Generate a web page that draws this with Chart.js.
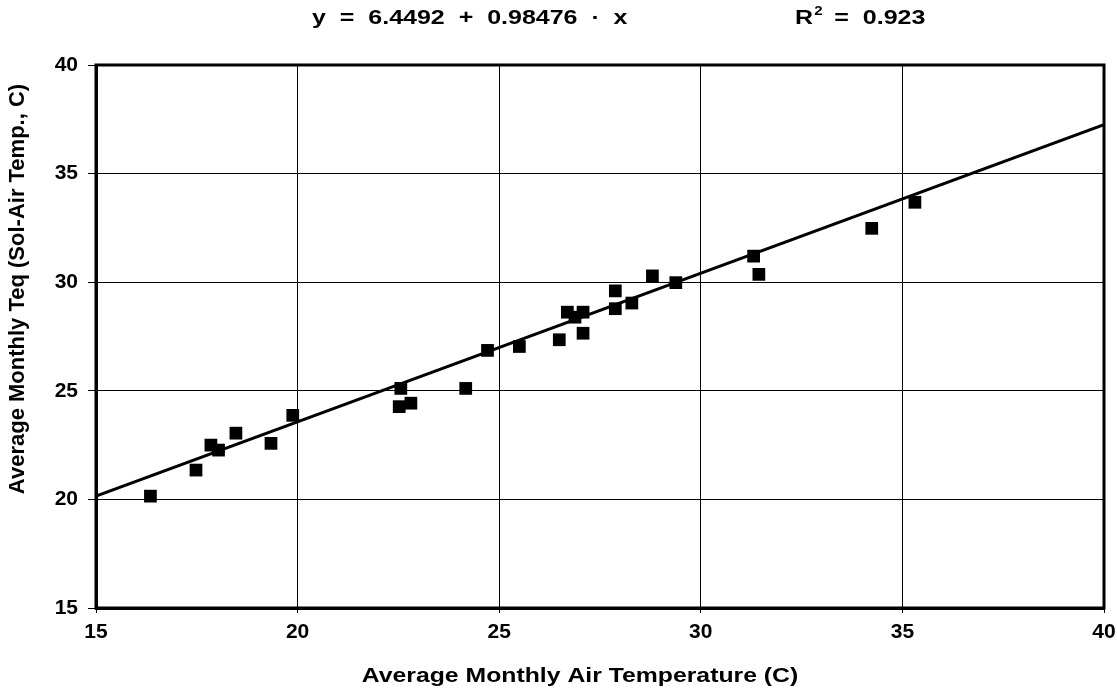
<!DOCTYPE html>
<html lang="en">
<head>
    <meta charset="UTF-8">
    <title>Teq vs Air Temperature</title>
    <style>
        body { margin: 0; padding: 0; background: #fff; overflow: hidden; }
        .chart-container { width: 1117px; height: 694px; }
        canvas { display: block; }
    </style>
    <script src="https://cdn.jsdelivr.net/npm/chart.js"></script>
</head>
<body>
    <div class="chart-container">
        <canvas id="myChart"></canvas>
    </div>
    <script>
        // Données
        const airTemp = [16.35, 17.48, 17.85, 18.04, 18.47, 19.34, 19.88, 22.52, 22.56, 22.81,
                         24.17, 24.71, 25.50, 26.49, 26.69, 26.88, 27.08, 27.08, 27.88, 27.88,
                         28.29, 28.80, 29.38, 31.31, 31.44, 34.24, 35.31];
        const teq = [20.15, 21.35, 22.50, 22.27, 23.05, 22.58, 23.87, 24.27, 25.11, 24.43,
                     25.11, 26.86, 27.04, 27.35, 28.62, 28.39, 28.62, 27.65, 29.60, 28.78,
                     29.04, 30.29, 29.98, 31.20, 30.36, 32.48, 33.68];
        const fitX = [15, 40];
        const fitY = [20.15, 37.25];
        const eqText = 'y  =  6.4492  +  0.98476  ·  x';
        const r2Text = '=  0.923';
        const xTitle = 'Average Monthly Air Temperature (C)';
        const yTitle = 'Average Monthly Teq (Sol-Air Temp., C)';

        const FONT = "'Liberation Sans', Arial, sans-serif";

        // Cadre, titre du haut et titres des axes
        const framePlugin = {
            id: 'frame',
            afterDraw(chart) {
                const { ctx, chartArea: a } = chart;
                ctx.save();
                ctx.strokeStyle = '#000';
                ctx.lineWidth = 3;
                ctx.strokeRect(a.left, a.top, a.right - a.left, a.bottom - a.top);
                ctx.restore();

                ctx.save();
                ctx.fillStyle = '#000';
                ctx.textBaseline = 'middle';
                ctx.textAlign = 'left';

                // équation (police un peu étirée comme sur l'original)
                ctx.save();
                ctx.translate(312, 18);
                ctx.scale(1.25, 1);
                ctx.font = 'bold 20px ' + FONT;
                ctx.fillText(eqText, 0, 0);
                ctx.restore();

                ctx.save();
                ctx.translate(795, 18);
                ctx.scale(1.25, 1);
                ctx.font = 'bold 20px ' + FONT;
                const rw = ctx.measureText('R').width;
                ctx.fillText('R', 0, 0);
                ctx.font = 'bold 12px ' + FONT;
                ctx.fillText('2', rw + 1, -6);
                ctx.font = 'bold 20px ' + FONT;
                ctx.fillText(r2Text, rw + 17, 0);
                ctx.restore();

                // titre axe X
                ctx.save();
                ctx.translate(580, 676);
                ctx.scale(1.18, 1);
                ctx.textAlign = 'center';
                ctx.font = 'bold 21px ' + FONT;
                ctx.fillText(xTitle, 0, 0);
                ctx.restore();

                // titre axe Y
                ctx.save();
                ctx.translate(18, 289);
                ctx.rotate(-Math.PI / 2);
                ctx.textAlign = 'center';
                ctx.font = 'bold 22px ' + FONT;
                ctx.fillText(yTitle, 0, 0);
                ctx.restore();

                ctx.restore();
            }
        };

        const ctx = document.getElementById('myChart').getContext('2d');
        new Chart(ctx, {
            data: {
                datasets: [{
                    type: 'line',
                    data: fitX.map((x, i) => ({ x: x, y: fitY[i] })),
                    borderColor: '#000',
                    borderWidth: 3,
                    pointRadius: 0,
                    order: 1
                }, {
                    type: 'scatter',
                    data: airTemp.map((x, i) => ({ x: x, y: teq[i] })),
                    pointStyle: 'rect',
                    pointRadius: 9,
                    backgroundColor: '#000',
                    borderColor: '#000',
                    borderWidth: 0,
                    order: 2
                }]
            },
            options: {
                responsive: true,
                maintainAspectRatio: false,
                animation: false,
                layout: { padding: { top: 65, right: 13, left: 0, bottom: 0 } },
                plugins: {
                    legend: { display: false },
                    tooltip: { enabled: false }
                },
                scales: {
                    x: {
                        type: 'linear',
                        min: 15,
                        max: 40,
                        afterFit: s => {
                            s.height = 86;
                            s.paddingLeft = 0;
                            s.paddingRight = 13;
                        },
                        ticks: {
                            stepSize: 5,
                            color: '#000',
                            padding: 7,
                            font: { family: FONT, size: 21, weight: 'bold' }
                        },
                        grid: { color: '#000', lineWidth: 1, tickLength: 5 },
                        border: { color: '#000', width: 3 }
                    },
                    y: {
                        type: 'linear',
                        min: 15,
                        max: 40,
                        afterFit: s => { s.width = 96; },
                        ticks: {
                            stepSize: 5,
                            color: '#000',
                            padding: 10,
                            font: { family: FONT, size: 21, weight: 'bold' }
                        },
                        grid: { color: '#000', lineWidth: 1, tickLength: 8 },
                        border: { color: '#000', width: 3 }
                    }
                }
            },
            plugins: [framePlugin]
        });
    </script>
</body>
</html>
